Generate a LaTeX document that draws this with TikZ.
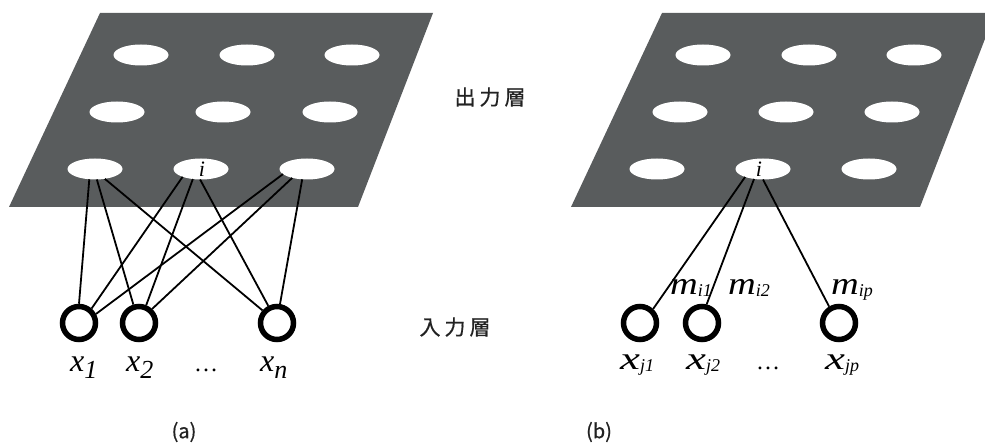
\documentclass[tikz,border=0pt]{standalone}
\usepackage{fontspec}
\setmainfont{Liberation Serif}
\newfontfamily\jpfont[FakeBold=0.6]{Noto Sans CJK JP}
\usetikzlibrary{shapes.geometric}
\definecolor{sheet}{RGB}{89,92,93}
\definecolor{jptext}{RGB}{34,34,34}

% label helpers: main letter, subscript
\newcommand{\vsub}[2]{{\fontsize{32}{32}\selectfont\itshape #1}\raisebox{-6pt}{\fontsize{26}{26}\selectfont\itshape #2}}
\newcommand{\wsub}[3]{\scalebox{#3}[1]{\fontsize{32}{32}\selectfont\itshape #1}\raisebox{-2pt}{\fontsize{18}{18}\selectfont\itshape #2}}

\tikzset{
  x=1pt, y=-1pt,
  sheetfill/.style={fill=sheet, draw=none},
  unit/.style={ellipse, fill=white, draw=none, minimum width=55pt, minimum height=21pt, inner sep=0pt, outer sep=0pt},
  inputnode/.style={circle, draw=black, line width=5.5pt, minimum size=33pt, inner sep=0pt},
  wire/.style={line width=1.8pt, draw=black},
  unitlabel/.style={anchor=base, inner sep=0pt, font=\fontsize{22}{22}\selectfont\itshape},
  varlabel/.style={anchor=base west, inner sep=0pt},
  dotslabel/.style={anchor=base west, inner sep=0pt, font=\fontsize{24}{24}\selectfont},
  layerlabel/.style={inner sep=0pt, text=jptext, font=\jpfont\fontsize{21}{21}\selectfont},
  caption/.style={inner sep=0pt, text=jptext, font=\jpfont\fontsize{20}{20}\selectfont},
}

\begin{document}
\begin{tikzpicture}
\useasboundingbox (0,0) rectangle (985,443);

% ---------- (a) ----------
\fill[sheetfill] (100,13) -- (433,13) -- (358,207) -- (9,207) -- cycle;
\node[unit] (a11) at (141,55) {};
\node[unit] (a12) at (247,55) {};
\node[unit] (a13) at (352,55) {};
\node[unit] (a21) at (117,112) {};
\node[unit] (a22) at (223,112) {};
\node[unit] (a23) at (330,112) {};
\node[unit] (a31) at (95,169) {};
\node[unit] (a32) at (201,169) {};
\node[unit] (a33) at (307,169) {};
\node[unitlabel] (ia) at (202,177) {i};

\node[inputnode] (xa1) at (79,323) {};
\node[inputnode] (xa2) at (139,323) {};
\node[inputnode] (xan) at (277,323) {};

\draw[wire] (a31.241) -- (xa1.90);
\draw[wire] (a31.280) -- (xa2.107);
\draw[wire] (a31.315) -- (xan.139);
\draw[wire] (a32.203) -- (xa1.49);
\draw[wire] (a32.231) -- (xa2.68);
\draw[wire] (a32.265) -- (xan.117);
\draw[wire] (a33.192) -- (xa1.28);
\draw[wire] (a33.211) -- (xa2.47);
\draw[wire] (a33.245) -- (xan.81);

\node[varlabel] (la1) at (70,372) {\vsub{x}{1}};
\node[varlabel] (la2) at (126,372) {\vsub{x}{2}};
\node[dotslabel] (lad) at (194,372) {\textellipsis};
\node[varlabel] (lan) at (260,372) {\vsub{x}{n}};

% ---------- (b) ----------
\fill[sheetfill] (662,13) -- (995,13) -- (920,207) -- (571,207) -- cycle;
\node[unit] (b11) at (703,55) {};
\node[unit] (b12) at (809,55) {};
\node[unit] (b13) at (914,55) {};
\node[unit] (b21) at (680,112) {};
\node[unit] (b22) at (786,112) {};
\node[unit] (b23) at (892,112) {};
\node[unit] (b31) at (657,169) {};
\node[unit] (b32) at (763,169) {};
\node[unit] (b33) at (869,169) {};
\node[unitlabel] (ib) at (759,177) {i};

\node[inputnode] (xb1) at (640,323) {};
\node[inputnode] (xb2) at (702,323) {};
\node[inputnode] (xbp) at (839,323) {};

\draw[wire] (b32.204) -- (xb1.47);
\draw[wire] (b32.228) -- (xb2.76);
\draw[wire] (b32.270) -- (xbp.121);

\node[varlabel] (mb1) at (670,295) {\wsub{m}{i1}{1.2}};
\node[varlabel] (mb2) at (728,295) {\wsub{m}{i2}{1.2}};
\node[varlabel] (mbp) at (831,295) {\wsub{m}{ip}{1.2}};

\node[varlabel] (lb1) at (620,370) {\wsub{x}{j1}{1.4}};
\node[varlabel] (lb2) at (686,370) {\wsub{x}{j2}{1.4}};
\node[dotslabel] (lbd) at (756,370) {\textellipsis};
\node[varlabel] (lbp) at (825,370) {\wsub{x}{jp}{1.4}};

% ---------- layer names and captions ----------
\node[layerlabel] (outname) at (490,97) {出\hspace{4pt}力\hspace{4pt}層};
\node[layerlabel] (inname) at (455,327) {入\hspace{4pt}力\hspace{4pt}層};
\node[caption] (capa) at (184,432) {(a)};
\node[caption] (capb) at (599,432) {(b)};
\end{tikzpicture}
\end{document}
